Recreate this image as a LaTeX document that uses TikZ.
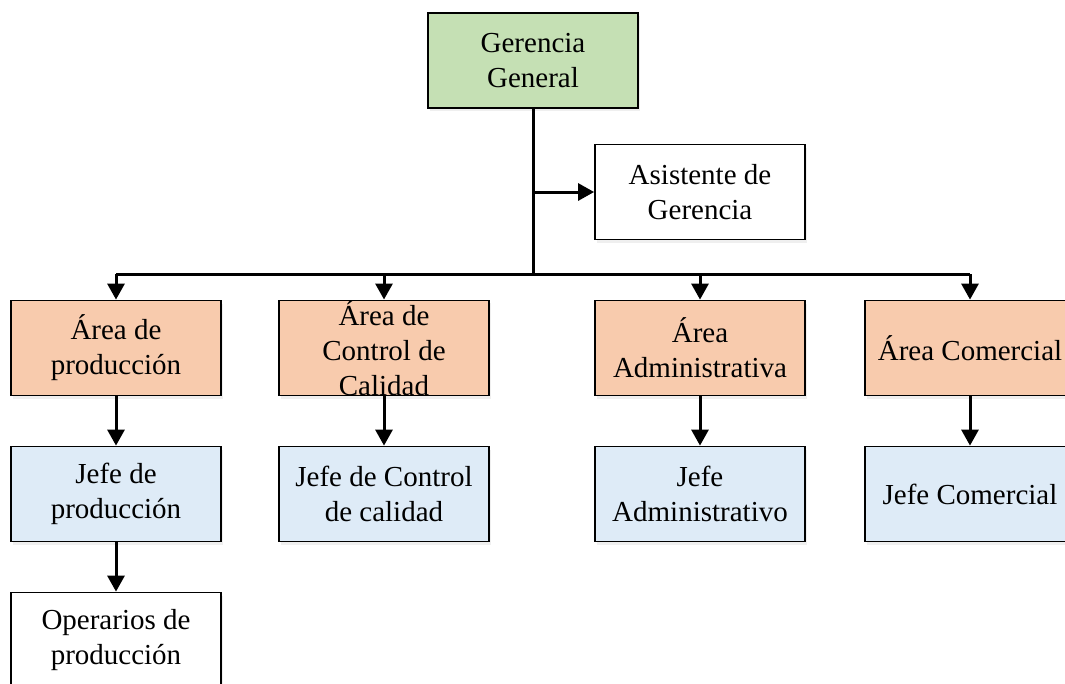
\documentclass[tikz,border=0pt]{standalone}
\usepackage{fontspec}
\setmainfont{Liberation Serif}
\usetikzlibrary{arrows.meta,shadows}
\definecolor{ggreen}{HTML}{C5E0B4}
\definecolor{gorange}{HTML}{F8CBAD}
\definecolor{gblue}{HTML}{DEEBF7}
\tikzset{
  box/.style={draw=black, line width=1.8pt, minimum width=210pt, minimum height=95pt,
    inner sep=0pt, align=center, font=\fontsize{29}{35}\selectfont,
    drop shadow={shadow xshift=2pt, shadow yshift=-3pt, opacity=0.12}},
  greenbox/.style={box, fill=ggreen},
  orangebox/.style={box, fill=gorange},
  bluebox/.style={box, fill=gblue},
  whitebox/.style={box, fill=white},
  conn/.style={line width=3pt, draw=black},
  arr/.style={conn, -{Triangle[width=17pt,length=16pt]}},
}
\begin{document}
\begin{tikzpicture}[x=1pt,y=-1pt]
\useasboundingbox[fill=white] (0,0) rectangle (1065,683);
\node[greenbox] (gg) at (533,60.5) {Gerencia\\General};
\node[whitebox] (asis) at (700,192) {Asistente de\\Gerencia};
\node[orangebox] (a1) at (116,348) {Área de\\producción};
\node[orangebox] (a2) at (384,348) {Área de\\Control de\\Calidad};
\node[orangebox] (a3) at (700,348) {Área\\Administrativa};
\node[orangebox] (a4) at (970,348) {Área Comercial};
\node[bluebox] (j1) at (116,494) {Jefe de\\producción};
\node[bluebox] (j2) at (384,494) {Jefe de Control\\de calidad};
\node[bluebox] (j3) at (700,494) {Jefe\\Administrativo};
\node[bluebox] (j4) at (970,494) {Jefe Comercial};
\node[whitebox] (op) at (116,640) {Operarios de\\producción};
\coordinate (bus) at (533,274);
\coordinate (br) at (gg.south |- asis.west);
\draw[conn] (gg.south) -- (bus);
\draw[arr] (br) -- (asis.west);
\draw[conn] (a1.north |- bus) -- (a4.north |- bus);
\foreach \n in {a1,a2,a3,a4} {\draw[arr] (\n.north |- bus) -- (\n.north);}
\draw[arr] (a1) -- (j1);
\draw[arr] (a2) -- (j2);
\draw[arr] (a3) -- (j3);
\draw[arr] (a4) -- (j4);
\draw[arr] (j1) -- (op);
\end{tikzpicture}
\end{document}
